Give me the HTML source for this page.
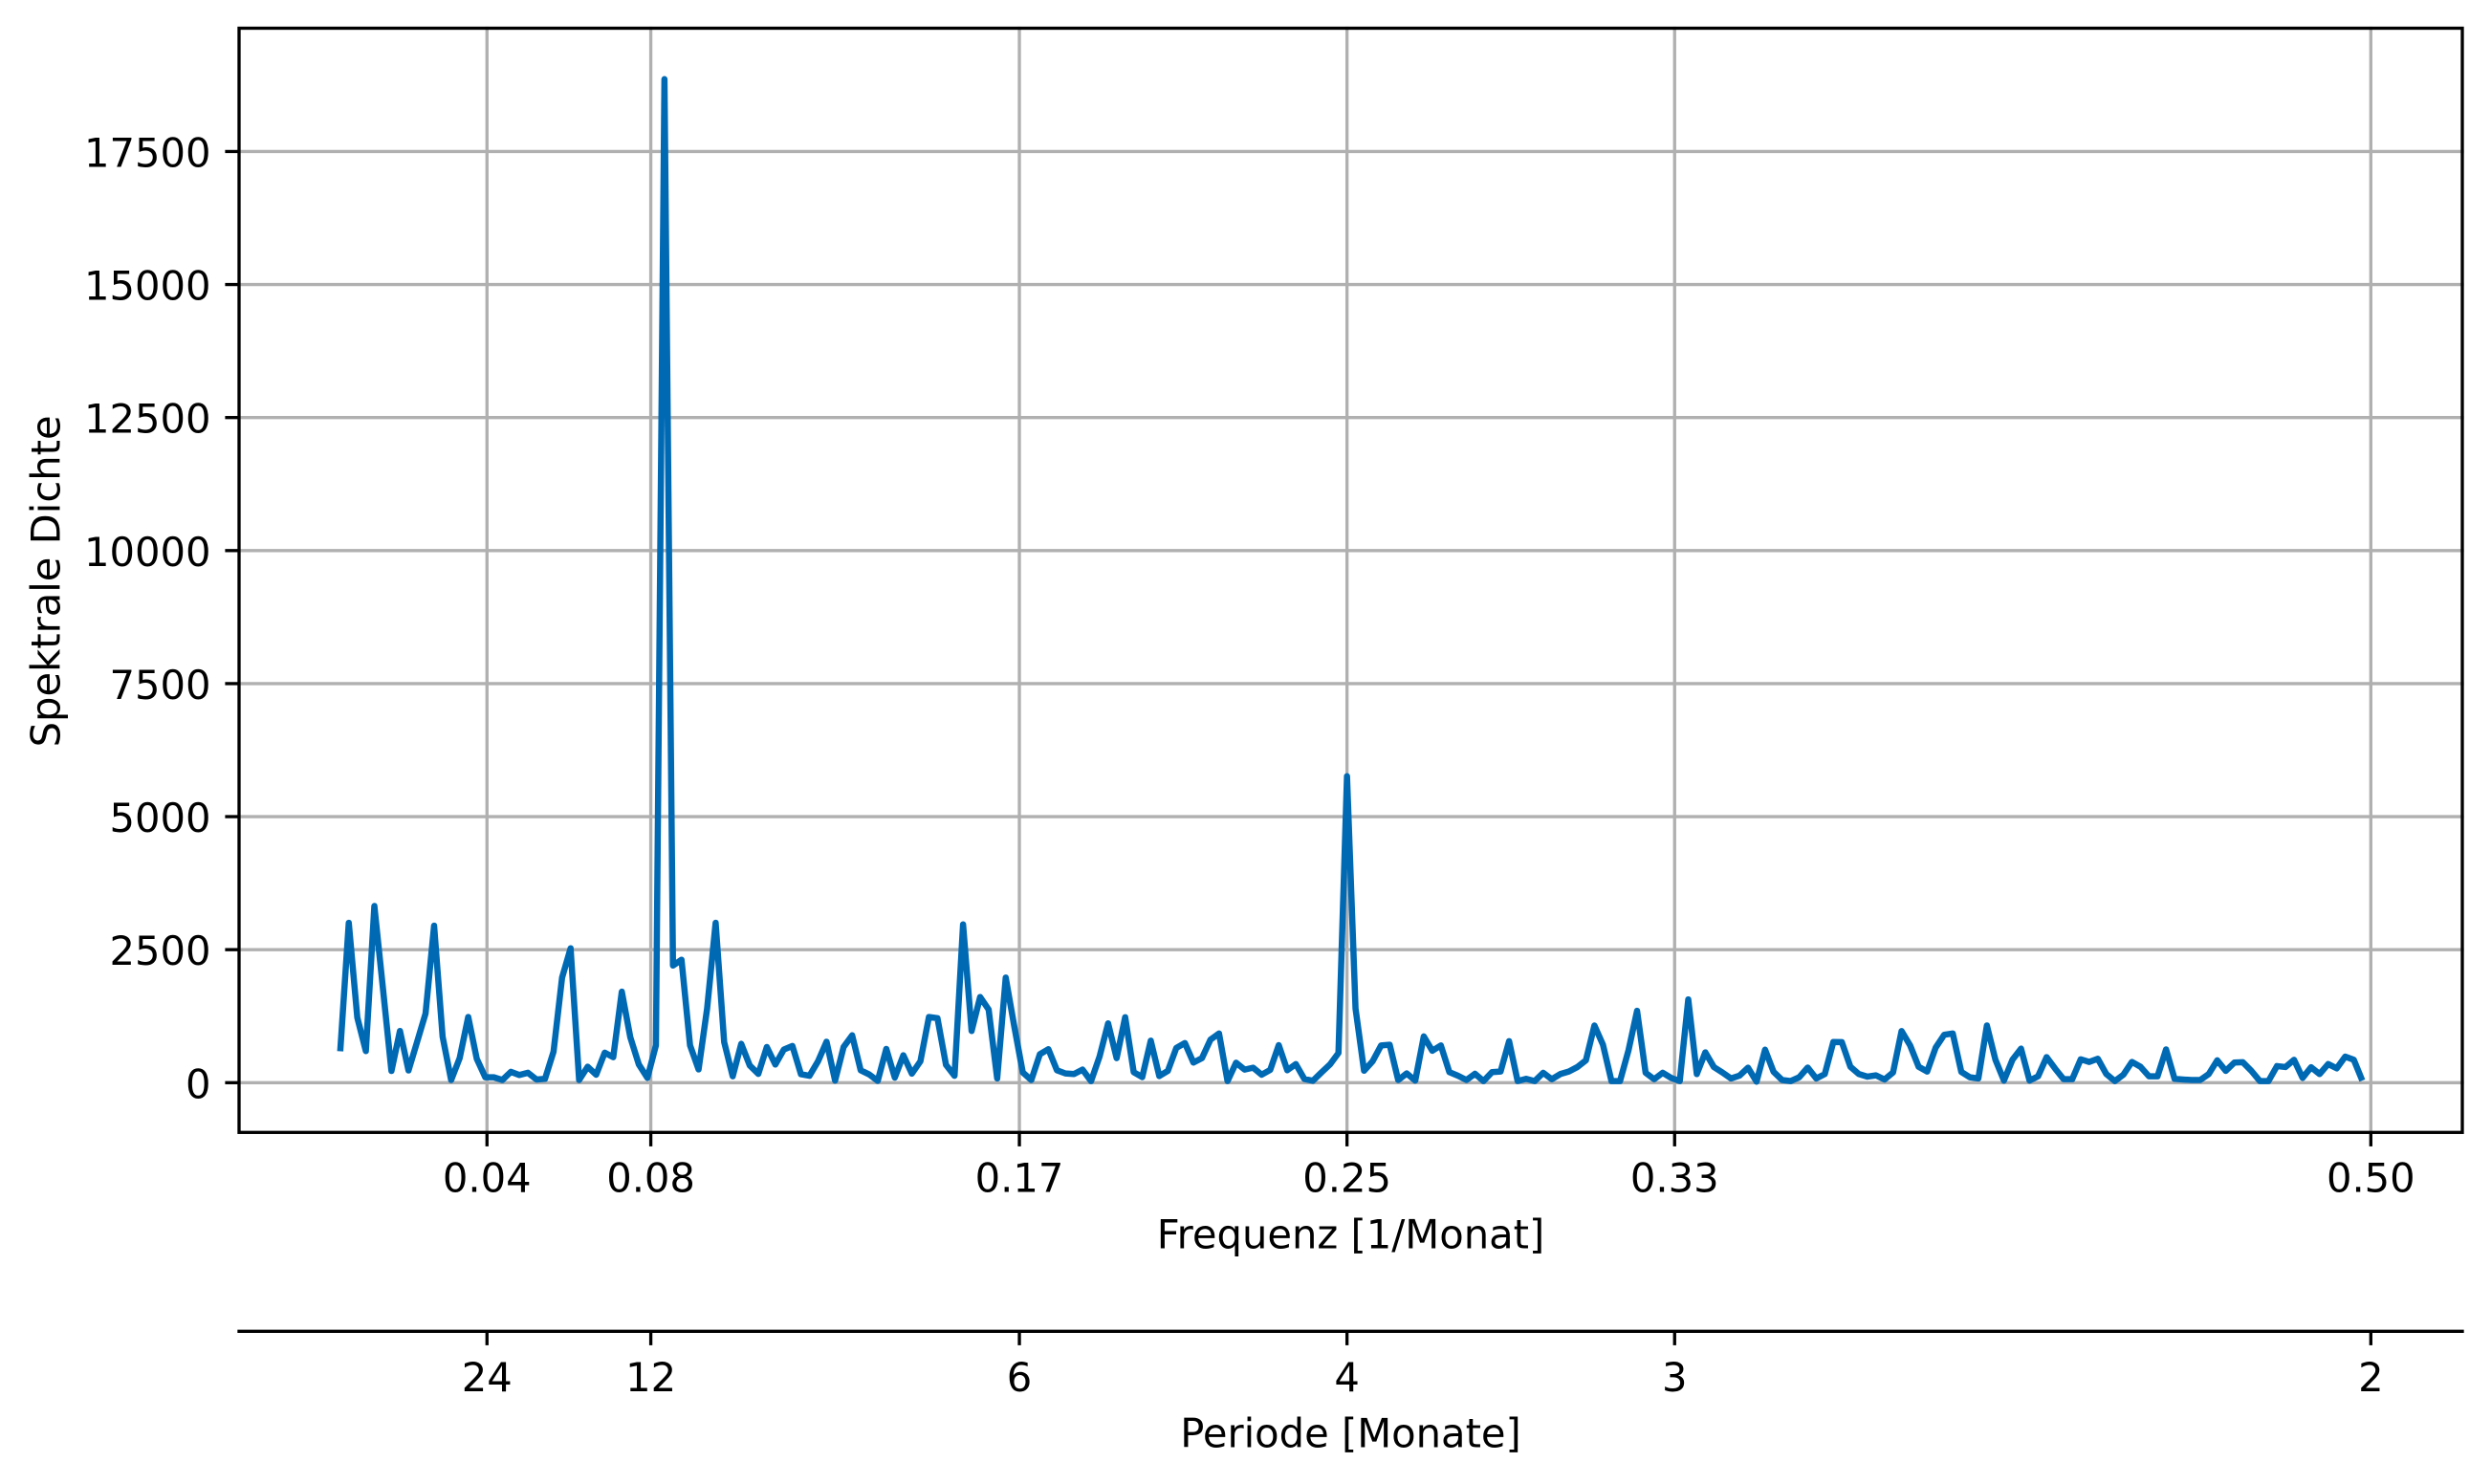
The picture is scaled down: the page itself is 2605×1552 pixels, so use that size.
<!DOCTYPE html>
<html lang="de">
<head>
<meta charset="utf-8">
<title>Spektrale Dichte</title>
<style>
html,body{margin:0;padding:0;background:#fff;width:2605px;height:1552px;overflow:hidden}
svg{display:block}
text{font-family:"DejaVu Sans","Liberation Sans",sans-serif;font-size:41.67px;fill:#000}
</style>
</head>
<body>
<svg id="chart" xmlns="http://www.w3.org/2000/svg" width="2605" height="1552" viewBox="0 0 2605 1552">
<rect x="0" y="0" width="2605" height="1552" fill="#ffffff"/>
<g id="grid"></g>
<g id="series"></g>
<g id="axes"></g>
</svg>
<script>
const sampleCount = 480;
const firstHarmonic = 2;
const spectralDensity = [
590,3005,1224,594,3320,1780,220,972,230,762,1300,2950,864,50,462,1235,450,102,102,50,
204,144,186,60,72,582,1974,2525,50,300,150,564,480,1710,852,342,90,702,18860,2202,
2310,702,250,1392,3005,762,120,730,324,165,670,342,624,690,160,130,402,770,40,672,
890,234,155,35,635,95,515,170,402,1235,1212,335,130,2975,972,1610,1374,80,1975,1060,
192,50,534,630,234,174,162,246,30,492,1115,462,1230,198,105,790,125,222,654,745,
378,462,810,925,30,375,246,282,150,240,705,234,350,70,35,192,342,558,5760,1392,
225,402,700,714,50,174,40,870,600,700,198,132,50,168,30,198,210,780,30,72,
30,186,65,162,210,294,420,1075,714,30,30,612,1350,186,65,186,90,30,1565,162,
570,294,192,80,132,282,20,620,204,50,30,102,285,80,162,765,762,300,162,114,
138,60,192,970,702,300,210,660,900,925,204,102,80,1075,432,40,432,640,40,120,
480,264,65,65,440,390,450,162,30,150,390,300,120,120,625,72,60,50,50,162,
420,222,378,384,222,30,30,312,294,430,90,290,162,350,270,490,432,40
];
const yTickValues = [0,2500,5000,7500,10000,12500,15000,17500];
const xTickValues = [0.04,0.08,0.17,0.25,0.33,0.50];
const frequencyTickLabels = ["0.04","0.08","0.17","0.25","0.33","0.50"];
const periodTickLabels = ["24","12","6","4","3","2"];

const plotLeft = 250, plotRight = 2575, plotTop = 29.5, plotBottom = 1184.3, periodAxisY = 1392.3;
const xDomainMin = -0.02054, xDomainMax = 0.52234;
const yDomainMin = -934.4, yDomainMax = 19817;
function xScale(f){ return plotLeft + (f - xDomainMin) / (xDomainMax - xDomainMin) * (plotRight - plotLeft); }
function yScale(v){ return plotBottom + (v - yDomainMin) / (yDomainMax - yDomainMin) * (plotTop - plotBottom); }

const NS = "http://www.w3.org/2000/svg";
const gridLayer = document.getElementById("grid");
const seriesLayer = document.getElementById("series");
const axesLayer = document.getElementById("axes");
function makeLine(x1,y1,x2,y2,color){
  const el = document.createElementNS(NS,"line");
  el.setAttribute("x1",x1); el.setAttribute("y1",y1);
  el.setAttribute("x2",x2); el.setAttribute("y2",y2);
  el.setAttribute("stroke",color); el.setAttribute("stroke-width","3.33");
  el.setAttribute("stroke-linecap","square");
  return el;
}
function makeTick(x1,y1,x2,y2){
  const el = makeLine(x1,y1,x2,y2,"#000000");
  el.setAttribute("stroke-linecap","butt");
  return el;
}
function makeText(str,x,y,anchor){
  const el = document.createElementNS(NS,"text");
  el.setAttribute("x",x); el.setAttribute("y",y);
  el.setAttribute("text-anchor",anchor);
  el.textContent = str;
  return el;
}

/* grid */
yTickValues.forEach(function(v){
  const el = makeLine(plotLeft,yScale(v),plotRight,yScale(v),"#b0b0b0");
  
  
  gridLayer.appendChild(el);
});
xTickValues.forEach(function(f){
  const el = makeLine(xScale(f),plotTop,xScale(f),plotBottom,"#b0b0b0");
  
  
  gridLayer.appendChild(el);
});

/* series */
const linePoints = spectralDensity.map(function(v,i){
  return xScale((firstHarmonic + i) / sampleCount).toFixed(2) + "," + yScale(v).toFixed(2);
});
const seriesPath = document.createElementNS(NS,"polyline");
seriesPath.setAttribute("points",linePoints.join(" "));
seriesPath.setAttribute("fill","none");
seriesPath.setAttribute("stroke","#0069b4");
seriesPath.setAttribute("stroke-width","6.5");
seriesPath.setAttribute("stroke-linejoin","round");
seriesPath.setAttribute("stroke-linecap","butt");


seriesLayer.appendChild(seriesPath);

/* spines */
const frame = document.createElementNS(NS,"rect");
frame.setAttribute("x",plotLeft); frame.setAttribute("y",plotTop);
frame.setAttribute("width",plotRight-plotLeft); frame.setAttribute("height",plotBottom-plotTop);
frame.setAttribute("fill","none"); frame.setAttribute("stroke","#000000"); frame.setAttribute("stroke-width","3.33");


axesLayer.appendChild(frame);

const periodSpine = makeLine(plotLeft,periodAxisY,plotRight,periodAxisY,"#000000");


axesLayer.appendChild(periodSpine);

/* y axis */
yTickValues.forEach(function(v){
  const y = yScale(v);
  const tick = makeTick(plotLeft-14.6,y,plotLeft,y);
  
  
  axesLayer.appendChild(tick);
  const label = makeText(String(v),220.5,y+16,"end");
  
  
  axesLayer.appendChild(label);
});

/* frequency and period axes */
xTickValues.forEach(function(f,i){
  const x = xScale(f);
  const tickA = makeTick(x,plotBottom,x,plotBottom+14.6);
  
  
  axesLayer.appendChild(tickA);
  const labelA = makeText(frequencyTickLabels[i],x,1246.6,"middle");
  
  
  axesLayer.appendChild(labelA);
  const tickB = makeTick(x,periodAxisY,x,periodAxisY+14.6);
  
  
  axesLayer.appendChild(tickB);
  const labelB = makeText(periodTickLabels[i],x,1455.2,"middle");
  
  
  axesLayer.appendChild(labelB);
});

/* axis titles */
const freqTitle = makeText("Frequenz [1/Monat]",(plotLeft+plotRight)/2,1305.6,"middle");


axesLayer.appendChild(freqTitle);
const periodTitle = makeText("Periode [Monate]",(plotLeft+plotRight)/2,1513.3,"middle");


axesLayer.appendChild(periodTitle);
const yTitle = makeText("Spektrale Dichte",0,0,"middle");
yTitle.setAttribute("transform","translate(62.3,607.9) rotate(-90)");


axesLayer.appendChild(yTitle);
</script>
</body>
</html>
